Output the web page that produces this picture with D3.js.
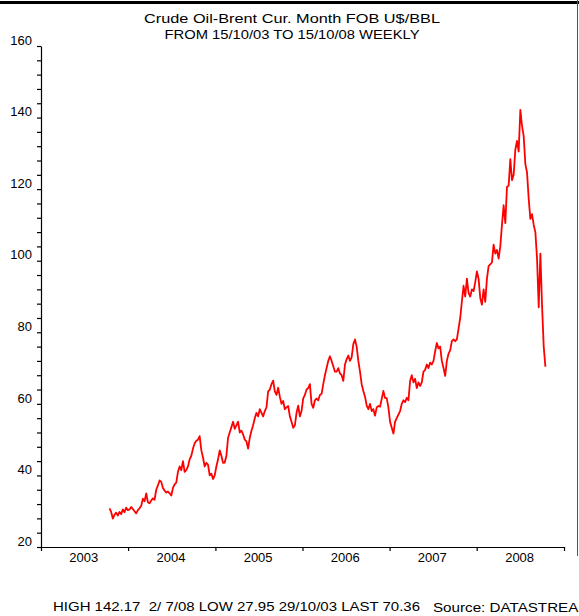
<!DOCTYPE html>
<html>
<head>
<meta charset="utf-8">
<script src="https://cdn.jsdelivr.net/npm/d3@7"></script>
<style>
  html, body { margin: 0; padding: 0; background: #fff; }
  svg { display: block; }
  text { font-family: "Liberation Sans", Arial, sans-serif; fill: #000; }
</style>
</head>
<body>
<script>
// -------------------------------------------------------------------------- //
//                                  DATA                                      //
// -------------------------------------------------------------------------- //

var titleLines = ["Crude Oil-Brent Cur. Month FOB U$/BBL",
                  "FROM 15/10/03 TO 15/10/08 WEEKLY"];

// first weekly observation, every value below is one week after the previous
var startDate = "2003-10-15";

var brent2003 = [30.8, 29.8, 27.95, 29.0, 29.6, 28.8, 29.8, 29.2, 30.5, 29.7, 31.0, 30.3];

var brent2004 = [30.5, 31.2, 30.6, 30.0,
                 29.4, 30.3, 30.8, 31.5,
                 33.5, 32.8, 35.0, 32.5, 32.2,
                 33.0, 33.6, 33.2, 36.0,
                 37.2, 38.6, 38.2, 36.5,
                 35.8, 35.2, 35.5, 35.0, 34.4,
                 36.5, 37.5, 38.0, 41.0,
                 42.5, 41.5, 44.0, 41.0,
                 41.5, 42.5, 44.5, 45.5, 47.5,
                 49.0, 49.7, 50.0, 51.0,
                 47.0, 45.0, 42.5, 43.5,
                 43.0, 40.0, 40.5, 39.0, 40.0];

var brent2005 = [42.5, 44.5, 47.0, 45.5,
                 43.5, 43.6, 45.5, 50.5,
                 52.0, 53.5, 55.0, 53.0, 54.0,
                 55.0, 52.0, 52.5, 51.5,
                 50.0, 49.5, 47.5, 50.5,
                 52.5, 54.0, 56.0, 57.5, 56.5,
                 58.5, 57.5, 56.5, 58.0,
                 59.0, 63.5, 64.0, 65.5, 66.5,
                 63.5, 62.5, 64.5, 62.0,
                 60.0, 60.8, 58.5, 59.0,
                 59.4, 56.5, 55.0, 53.3, 54.0,
                 57.5, 59.5, 56.5, 58.0];

var brent2006 = [61.5, 62.5, 64.0, 64.4,
                 65.5, 60.0, 58.9, 61.0,
                 61.5, 61.0, 62.5, 62.8, 65.5,
                 68.0, 70.0, 72.0, 73.3,
                 72.0, 70.5, 69.0, 69.0, 70.0,
                 68.5, 68.0, 66.4, 71.0,
                 72.5, 73.5, 72.0, 73.0,
                 76.7, 78.0, 76.0, 72.0, 69.0,
                 65.5, 63.6, 62.0, 59.5,
                 58.5, 60.0, 58.0, 58.5,
                 56.7, 59.0, 59.4, 59.2, 61.4,
                 63.6, 61.6, 61.6, 59.0];

var brent2007 = [55.0, 53.3, 51.7, 55.0, 56.0,
                 57.0, 58.0, 60.0, 61.0,
                 60.5, 61.7, 61.0, 66.4,
                 68.0, 66.0, 67.0, 64.4,
                 66.0, 65.0, 66.0, 69.0, 69.5,
                 71.0, 70.0, 71.5, 71.0,
                 72.0, 74.7, 77.0, 75.5,
                 76.0, 72.0, 70.0, 67.8, 72.0,
                 74.0, 75.0, 77.5, 78.0,
                 77.5, 78.0, 81.0, 84.0, 88.6,
                 93.0, 90.0, 95.0, 91.0,
                 90.0, 92.0, 91.5, 94.0];

var brent2008 = [97.0, 95.0, 89.6, 87.7, 92.0,
                 88.5, 95.0, 98.5, 99.0,
                 99.5, 104.5, 102.0, 103.0,
                 100.6, 104.0, 110.0, 115.5, 110.5,
                 120.6, 121.0, 128.4, 122.5,
                 124.0, 131.0, 133.5, 130.5,
                 142.17, 137.7, 134.9, 127.0, 124.7,
                 117.3, 111.7, 113.0, 110.0,
                 108.0, 100.6, 87.0, 102.0,
                 87.5, 76.0, 70.36];

var yTicks = [20, 40, 60, 80, 100, 120, 140, 160];
var yearLabels = ["2003", "2004", "2005", "2006", "2007", "2008"];

var footerStats = "HIGH 142.17  2/ 7/08 LOW 27.95 29/10/03 LAST 70.36";
var footerSource = "Source: DATASTREAM";

// -------------------------------------------------------------------------- //
//                                  CHART                                     //
// -------------------------------------------------------------------------- //

var width = 579, height = 616;

var svg = d3.select("body").append("svg")
    .attr("width", width)
    .attr("height", height);

var parse = d3.timeParse("%Y-%m-%d");
var first = parse(startDate);

var prices = [].concat(brent2003, brent2004, brent2005, brent2006, brent2007, brent2008);
var series = prices.map(function (v, i) {
    return { date: d3.timeDay.offset(first, 7 * i), value: v };
});

var years = yearLabels.map(Number);

var x = d3.scaleTime()
    .domain([new Date(years[0], 0, 1), new Date(years[years.length - 1] + 1, 0, 1)])
    .range([41, 564]);

var y = d3.scaleLinear()
    .domain([d3.min(yTicks), d3.max(yTicks)])
    .range([547, 46]);

// frame
svg.append("line")
    .attr("x1", 0).attr("x2", width)
    .attr("y1", 2.5).attr("y2", 2.5)
    .attr("stroke", "#000")
    .attr("stroke-width", 3);

svg.append("line")
    .attr("x1", 577.5).attr("x2", 577.5)
    .attr("y1", 0).attr("y2", 556)
    .attr("stroke", "#555")
    .attr("stroke-width", 1);

// title
svg.selectAll("text.title")
    .data(titleLines)
    .enter().append("text")
    .attr("class", "title")
    .attr("x", 292)
    .attr("y", function (d, i) { return 23 + i * 16; })
    .attr("text-anchor", "middle")
    .attr("textLength", function (d, i) { return i === 0 ? 296 : 255; })
    .attr("lengthAdjust", "spacingAndGlyphs")
    .style("font-size", "13px")
    .text(function (d) { return d; });

// y axis, minor ticks every 4
var yAxis = d3.axisLeft(y)
    .tickValues(d3.range(y.domain()[0], y.domain()[1] + 1, 4))
    .tickSize(4)
    .tickSizeOuter(0)
    .tickPadding(5)
    .tickFormat(function (d) { return yTicks.indexOf(d) >= 0 ? d : ""; });

var gy = svg.append("g")
    .attr("transform", "translate(41,0)")
    .call(yAxis);

gy.selectAll("text")
    .attr("dy", "-0.14em")
    .style("font-size", "13px")
    .style("font-family", "'Liberation Sans', Arial, sans-serif");

// x axis, ticks at the year boundaries
var boundaries = years.concat([years[years.length - 1] + 1]).map(function (yr) {
    return new Date(yr, 0, 1);
});

var xAxis = d3.axisBottom(x)
    .tickValues(boundaries)
    .tickSize(4)
    .tickSizeOuter(0)
    .tickFormat("");

svg.append("g")
    .attr("transform", "translate(0,547)")
    .call(xAxis);

// year labels sit in the middle of each year
var xLabels = d3.axisBottom(x)
    .tickValues(years.map(function (yr) { return new Date(yr, 6, 1); }))
    .tickSize(0)
    .tickPadding(6)
    .tickFormat(d3.timeFormat("%Y"));

var gl = svg.append("g")
    .attr("transform", "translate(-1,547)")
    .call(xLabels);

gl.select(".domain").remove();
gl.selectAll("text")
    .style("font-size", "13px")
    .style("font-family", "'Liberation Sans', Arial, sans-serif");

svg.selectAll(".domain, .tick line")
    .attr("stroke", "#000")
    .attr("stroke-width", 1.2);

// price line
var lineFunction = d3.line()
    .x(function (d) { return x(d.date); })
    .y(function (d) { return y(d.value); });

svg.append("path")
    .datum(series)
    .attr("d", lineFunction)
    .attr("fill", "none")
    .attr("stroke", "#ff0000")
    .attr("stroke-width", 1.8)
    .attr("stroke-linejoin", "round");

// footer
svg.append("text")
    .attr("x", 53)
    .attr("y", 611)
    .attr("textLength", 367)
    .attr("lengthAdjust", "spacingAndGlyphs")
    .style("font-size", "13px")
    .style("white-space", "pre")
    .text(footerStats);

svg.append("text")
    .attr("x", 433)
    .attr("y", 612)
    .attr("textLength", 158)
    .attr("lengthAdjust", "spacingAndGlyphs")
    .style("font-size", "13px")
    .text(footerSource);
</script>
</body>
</html>
